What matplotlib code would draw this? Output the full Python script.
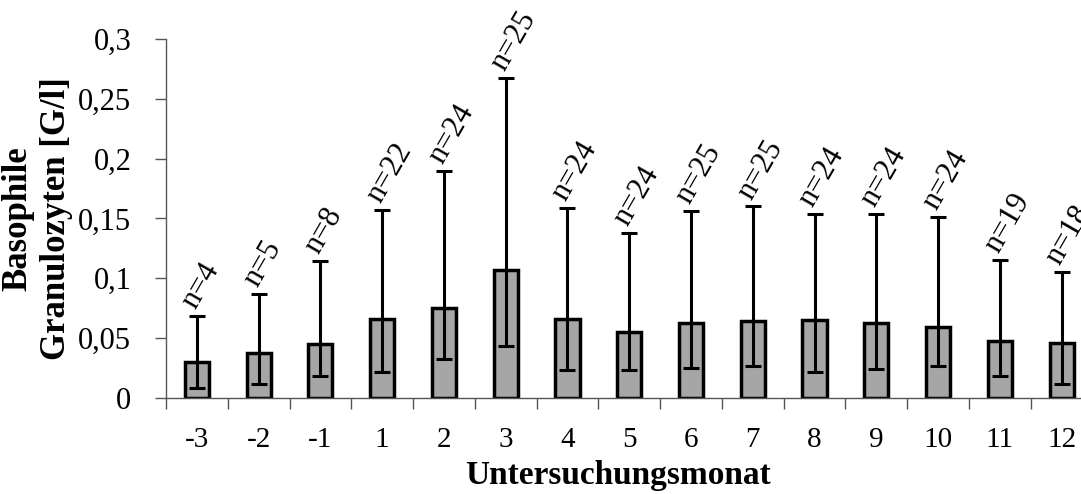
import numpy as np
import matplotlib.pyplot as plt

plt.rcParams['font.family'] = ['Liberation Serif', 'DejaVu Serif']

# Untersuchungsmonat, Mittelwert, untere/obere Fehlergrenze, Fallzahl
months = ['-3', '-2', '-1', '1', '2', '3', '4', '5', '6', '7', '8', '9', '10', '11', '12']
means = [0.030, 0.037, 0.045, 0.066, 0.075, 0.107, 0.066, 0.055, 0.062, 0.064, 0.065, 0.062, 0.059, 0.047, 0.046]
lower = [0.008, 0.011, 0.018, 0.021, 0.032, 0.043, 0.023, 0.023, 0.025, 0.026, 0.021, 0.024, 0.026, 0.018, 0.011]
upper = [0.068, 0.087, 0.114, 0.157, 0.190, 0.268, 0.159, 0.138, 0.156, 0.160, 0.154, 0.154, 0.151, 0.115, 0.105]
counts = [4, 5, 8, 22, 24, 25, 24, 24, 25, 25, 24, 24, 24, 19, 18]


def main():
    fig = plt.figure(figsize=(10.81, 4.94), dpi=100)
    ax = fig.add_axes([0.1536, 0.1953, 0.857, 0.7251])

    x = np.arange(len(months))
    m = np.array(means)
    yerr = [m - np.array(lower), np.array(upper) - m]

    ax.bar(x, m, width=0.39, color='#a6a6a6', edgecolor='black', linewidth=2.5, zorder=2)
    ax.errorbar(x, m, yerr=yerr, fmt='none', ecolor='black', elinewidth=2.2,
                capsize=6, capthick=2.2, zorder=3)

    # n-Beschriftung schraeg ueber dem Fehlerbalken
    for xi, top, n in zip(x, upper, counts):
        ax.annotate(f'n={n}', xy=(xi, top), xytext=(-6, 7), textcoords='offset points',
                    rotation=60, rotation_mode='anchor', ha='left', va='center',
                    fontsize=22, annotation_clip=False)

    ax.set_xlim(-0.5, len(months) - 0.5)
    ax.set_ylim(0, 0.3)
    ax.set_yticks([0, 0.05, 0.1, 0.15, 0.2, 0.25, 0.3])
    ax.set_yticklabels(['0', '0,05', '0,1', '0,15', '0,2', '0,25', '0,3'], fontsize=22)

    ax.set_xticks(x)
    ax.set_xticklabels(months, fontsize=21)
    ax.tick_params(axis='x', which='major', length=0, pad=21)
    ax.set_xticks(np.arange(-0.5, len(months), 1), minor=True)
    ax.tick_params(axis='x', which='minor', length=8, width=1, color='#555555', direction='out')
    ax.tick_params(axis='y', length=8, width=1, color='#555555', pad=17)

    for side in ['top', 'right']:
        ax.spines[side].set_visible(False)
    for side in ['left', 'bottom']:
        ax.spines[side].set_color('#555555')
        ax.spines[side].set_linewidth(1)

    ax.set_xlabel('Untersuchungsmonat', fontsize=24, fontweight='bold')
    ax.xaxis.set_label_coords(0.488, -0.175)
    ax.set_ylabel('Basophile\nGranulozyten [G/l]', fontsize=25, fontweight='bold',
                  linespacing=1.25)
    ax.yaxis.set_label_coords(-0.1, 0.5)

    fig.savefig('out.png', dpi=100)


if __name__ == "__main__":
    main()
